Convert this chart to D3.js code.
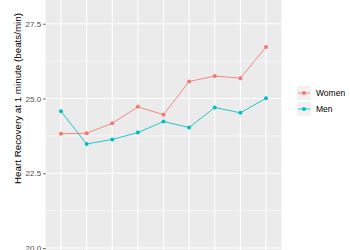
<!DOCTYPE html>
<html>
<head>
<meta charset="utf-8">
<script src="https://cdn.jsdelivr.net/npm/d3@7"></script>
<style>
  body { margin: 0; background: #ffffff; }
  svg { display: block; font-family: "Liberation Sans", Arial, sans-serif; }
</style>
</head>
<body>
<div id="chart"></div>
<script>
// data (x labels are cropped away in the reference)
var groups = ["1", "2", "3", "4", "5", "6", "7", "8", "9"];
var women = [23.82, 23.84, 24.17, 24.72, 24.46, 25.57, 25.75, 25.68, 26.72];
var men = [24.57, 23.48, 23.63, 23.86, 24.23, 24.03, 24.70, 24.52, 25.01];
var seriesNames = ["Women", "Men"];
var seriesColors = ["#F8766D", "#00BFC4"];
var majorTicks = [20, 22.5, 25, 27.5, 30];
var minorTicks = [21.25, 23.75, 26.25, 28.75];

var width = 350, height = 250;
// panel box (the top and bottom of the original figure are cut off)
var panel = { left: 45.6, right: 281.4, top: -66, bottom: 263 };

var svg = d3.select("#chart").append("svg")
    .attr("width", width)
    .attr("height", height);

var x = d3.scalePoint()
    .domain(groups)
    .range([panel.left, panel.right])
    .padding(0.6);

var y = d3.scaleLinear()
    .domain([19.5, 30.5])
    .range([panel.bottom, panel.top]);

// grey panel
svg.append("rect")
    .attr("x", panel.left)
    .attr("y", panel.top)
    .attr("width", panel.right - panel.left)
    .attr("height", panel.bottom - panel.top)
    .attr("fill", "#EBEBEB");

// grid lines
svg.append("g").selectAll("line")
    .data(minorTicks)
    .enter().append("line")
    .attr("x1", panel.left).attr("x2", panel.right)
    .attr("y1", function(d) { return y(d); })
    .attr("y2", function(d) { return y(d); })
    .attr("stroke", "#ffffff")
    .attr("stroke-width", 0.55);

svg.append("g").selectAll("line")
    .data(majorTicks)
    .enter().append("line")
    .attr("x1", panel.left).attr("x2", panel.right)
    .attr("y1", function(d) { return y(d); })
    .attr("y2", function(d) { return y(d); })
    .attr("stroke", "#ffffff")
    .attr("stroke-width", 1.1);

svg.append("g").selectAll("line")
    .data(groups)
    .enter().append("line")
    .attr("x1", function(d) { return x(d); })
    .attr("x2", function(d) { return x(d); })
    .attr("y1", panel.top).attr("y2", panel.bottom)
    .attr("stroke", "#ffffff")
    .attr("stroke-width", 1.1);

// y axis
var yAxis = d3.axisLeft(y)
    .tickValues(majorTicks)
    .tickFormat(d3.format(".1f"))
    .tickSize(2.5)
    .tickPadding(2);

var yAxisG = svg.append("g")
    .attr("transform", "translate(" + panel.left + ",0)")
    .call(yAxis);
yAxisG.select(".domain").remove();
yAxisG.selectAll("line").attr("stroke", "#333333").attr("stroke-width", 0.8);
yAxisG.selectAll("text")
    .attr("fill", "#4D4D4D")
    .style("font-size", "8px");

// x axis (falls below the visible crop)
var xAxis = d3.axisBottom(x).tickSize(2.5).tickPadding(2);
var xAxisG = svg.append("g")
    .attr("transform", "translate(0," + panel.bottom + ")")
    .call(xAxis);
xAxisG.select(".domain").remove();
xAxisG.selectAll("line").attr("stroke", "#333333");
xAxisG.selectAll("text").attr("fill", "#4D4D4D").style("font-size", "8px");

// axis title
svg.append("text")
    .attr("transform", "translate(21," + ((panel.top + panel.bottom) / 2) + ") rotate(-90)")
    .attr("text-anchor", "middle")
    .style("font-size", "9.8px")
    .attr("fill", "#000000")
    .text("Heart Recovery at 1 minute (beats/min)");

// lines and points
var seriesData = [women, men];
var line = d3.line()
    .x(function(d, i) { return x(groups[i]); })
    .y(function(d) { return y(d); });

seriesData.forEach(function(values, s) {
    svg.append("path")
        .datum(values)
        .attr("d", line)
        .attr("fill", "none")
        .attr("stroke", seriesColors[s])
        .attr("stroke-opacity", 0.85)
        .attr("stroke-width", 1);

    svg.append("g").selectAll("circle")
        .data(values)
        .enter().append("circle")
        .attr("cx", function(d, i) { return x(groups[i]); })
        .attr("cy", function(d) { return y(d); })
        .attr("r", 2)
        .attr("fill", seriesColors[s]);
});

// legend
var legendG = svg.append("g")
    .attr("transform", "translate(296,85)");

var keySize = 16;
var keys = legendG.selectAll("g")
    .data(seriesNames)
    .enter().append("g")
    .attr("transform", function(d, i) { return "translate(0," + (i * keySize) + ")"; });

keys.append("rect")
    .attr("width", keySize - 1)
    .attr("height", keySize - 1)
    .attr("x", 0.5).attr("y", 0.5)
    .attr("fill", "#F2F2F2")
    .attr("stroke", "#ffffff");

keys.append("line")
    .attr("x1", 2).attr("x2", keySize - 2)
    .attr("y1", keySize / 2).attr("y2", keySize / 2)
    .attr("stroke", function(d, i) { return seriesColors[i]; })
    .attr("stroke-opacity", 0.85)
    .attr("stroke-width", 1);

keys.append("circle")
    .attr("cx", keySize / 2).attr("cy", keySize / 2)
    .attr("r", 2)
    .attr("fill", function(d, i) { return seriesColors[i]; });

keys.append("text")
    .attr("x", keySize + 4)
    .attr("y", keySize / 2)
    .attr("dy", "0.35em")
    .style("font-size", "8.5px")
    .attr("fill", "#000000")
    .text(function(d) { return d; });
</script>
</body>
</html>
